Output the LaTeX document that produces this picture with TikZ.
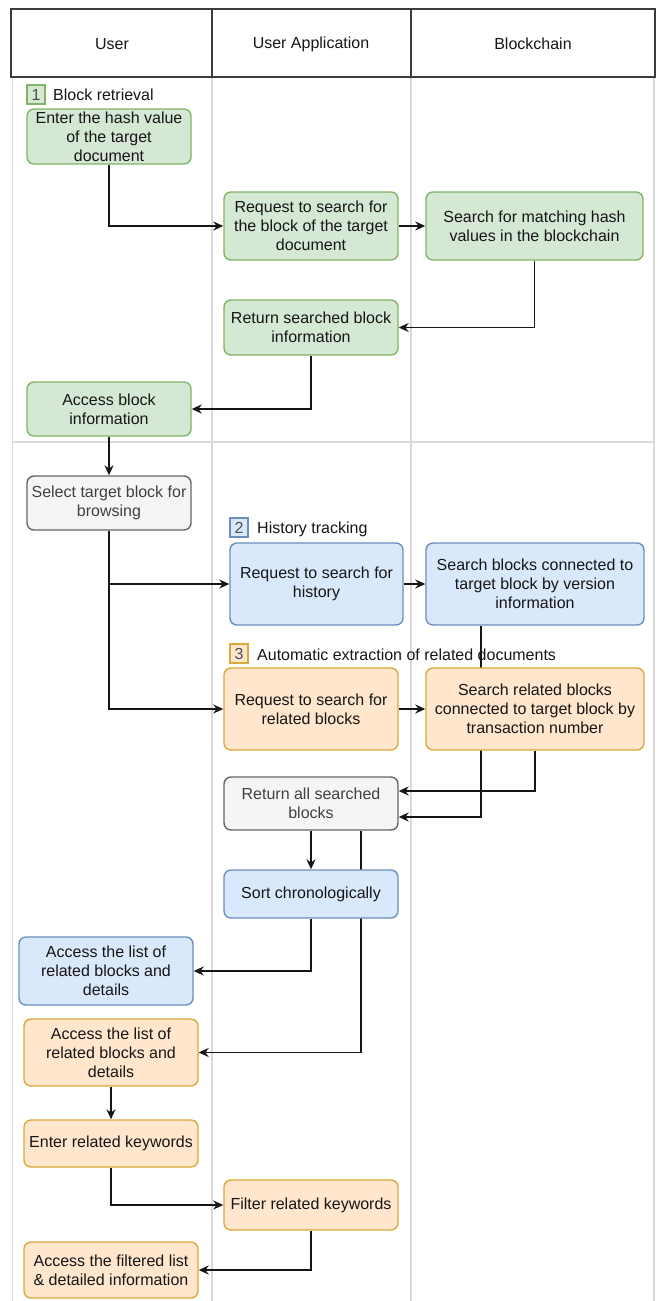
\documentclass[tikz,border=0pt]{standalone}
\usepackage{fontspec}
\setmainfont{Liberation Sans}
\usetikzlibrary{arrows.meta}
\definecolor{greenfill}{HTML}{D5E8D4}
\definecolor{greenline}{HTML}{82B366}
\definecolor{bluefill}{HTML}{DAE8FC}
\definecolor{blueline}{HTML}{6C8EBF}
\definecolor{orangefill}{HTML}{FFE6CC}
\definecolor{orangeline}{HTML}{DBA83C}
\definecolor{grayfill}{HTML}{F5F5F5}
\definecolor{grayline}{HTML}{666666}
\definecolor{lanegray}{HTML}{DADADA}
\definecolor{headline}{HTML}{3C3C3C}
\definecolor{ink}{HTML}{161616}
\pgfdeclarelayer{lanes}
\pgfdeclarelayer{links}
\pgfsetlayers{lanes,links,main}
\newcommand{\boxfont}{\fontsize{16}{19}\selectfont}
\begin{document}
\begin{tikzpicture}[x=1pt,y=-1pt,
  stepbox/.style={rectangle, rounded corners=7pt, draw, line width=1.4pt,
    align=center, inner sep=0pt, font=\boxfont, text=ink},
  greenbox/.style={stepbox, fill=greenfill, draw=greenline},
  bluebox/.style={stepbox, fill=bluefill, draw=blueline},
  orangebox/.style={stepbox, fill=orangefill, draw=orangeline},
  graybox/.style={stepbox, fill=grayfill, draw=grayline, text=black!75},
  badge/.style={rectangle, draw, line width=1.2pt, minimum width=18pt,
    minimum height=19pt, inner sep=0pt, font=\boxfont, text=black!70},
  caption/.style={anchor=west, inner sep=0pt, font=\boxfont, text=ink},
  headtext/.style={font=\boxfont, text=ink},
  link/.style={draw=ink, line width=1.6pt, -{Stealth[length=10pt,width=9pt]}},
  lane/.style={draw=lanegray, line width=1.6pt}]

\useasboundingbox (0,0) rectangle (657,1301);

% swimlanes below the header
\begin{pgfonlayer}{lanes}
  \draw[lane] (12.5,77) -- (12.5,1301);
  \draw[lane] (212,77) -- (212,1301);
  \draw[lane] (411,77) -- (411,1301);
  \draw[lane] (654,77) -- (654,1301);
  \draw[lane] (12.5,442) -- (654,442);
\end{pgfonlayer}

% header row
\draw[draw=headline, line width=2pt] (11,9) rectangle (655,77);
\draw[draw=headline, line width=2pt] (212,9) -- (212,77);
\draw[draw=headline, line width=2pt] (411,9) -- (411,77);
\node[headtext] (hUser) at (112,44) {User};
\node[headtext] (hApp) at (311,44) {User Application};
\node[headtext] (hChain) at (533,44) {Blockchain};

% 1 - block retrieval
\node[badge, fill=greenfill, draw=greenline] (b1) at (36,94.5) {1};
\node[caption] (c1) at (53,95) {Block retrieval};
\node[greenbox, minimum width=164pt, minimum height=55pt] (n1) at (109,136.5)
  {Enter the hash value\\of the target\\document};
\node[greenbox, minimum width=174pt, minimum height=68pt] (n2) at (311,226)
  {Request to search for\\the block of the target\\document};
\node[greenbox, minimum width=217pt, minimum height=68pt] (n3) at (534.5,226)
  {Search for matching hash\\values in the blockchain};
\node[greenbox, minimum width=174pt, minimum height=55pt] (n4) at (311,327.5)
  {Return searched block\\information};
\node[greenbox, minimum width=164pt, minimum height=54pt] (n5) at (109,409)
  {Access block\\information};

% browsing
\node[graybox, minimum width=164pt, minimum height=54pt] (n6) at (109,503)
  {Select target block for\\browsing};

% 2 - history tracking
\node[badge, fill=bluefill, draw=blueline] (b2) at (239,527.5) {2};
\node[caption] (c2) at (257,529) {History tracking};
\node[bluebox, minimum width=173pt, minimum height=82pt] (n7) at (316.5,584)
  {Request to search for\\history};
\node[bluebox, minimum width=218pt, minimum height=82pt] (n8) at (535,584)
  {Search blocks connected to\\target block by version\\information};

% 3 - related documents
\node[badge, fill=orangefill, draw=orangeline] (b3) at (239,653.5) {3};
\node[caption] (c3) at (257,655) {Automatic extraction of related documents};
\node[orangebox, minimum width=174pt, minimum height=82pt] (n9) at (311,709)
  {Request to search for\\related blocks};
\node[orangebox, minimum width=218pt, minimum height=82pt] (n10) at (535,709)
  {Search related blocks\\connected to target block by\\transaction number};

% results
\node[graybox, minimum width=174pt, minimum height=53pt] (n11) at (311,803.5)
  {Return all searched\\blocks};
\node[bluebox, minimum width=174pt, minimum height=48pt] (n12) at (311,894)
  {Sort chronologically};
\node[bluebox, minimum width=174pt, minimum height=68pt] (n13) at (106,971)
  {Access the list of\\related blocks and\\details};
\node[orangebox, minimum width=174pt, minimum height=67pt] (n14) at (111,1052.5)
  {Access the list of\\related blocks and\\details};
\node[orangebox, minimum width=174pt, minimum height=47pt] (n15) at (111,1143.5)
  {Enter related keywords};
\node[orangebox, minimum width=174pt, minimum height=50pt] (n16) at (311,1205)
  {Filter related keywords};
\node[orangebox, minimum width=174pt, minimum height=56pt] (n17) at (111,1270)
  {Access the filtered list\\\& detailed information};

% connectors, kept under the boxes
\begin{pgfonlayer}{links}
  \draw[link] (n1.south) |- (n2.west);
  \draw[link] (n2.east) -- (n3.west);
  \draw[link] (n3.south) |- (n4.east);
  \draw[link] (n4.south) |- (n5.east);
  \draw[link] (n5.south) -- (n6.north);
  \draw[link] (n6.south) |- (n7.west);
  \draw[link] (n6.south) |- (n9.west);
  \draw[link] (n7.east) -- (n8.west);
  \draw[link] (n9.east) -- (n10.west);
  \draw[link] ([xshift=-54pt]n8.south) |- ([yshift=-13.5pt]n11.east);
  \draw[link] (n10.south) |- ([yshift=12.5pt]n11.east);
  \draw[link] (n11.south) -- (n12.north);
  \draw[link] ([xshift=50pt]n11.south) |- (n14.east);
  \draw[link] (n12.south) |- (n13.east);
  \draw[link] (n14.south) -- (n15.north);
  \draw[link] (n15.south) |- (n16.west);
  \draw[link] (n16.south) |- (n17.east);
\end{pgfonlayer}
\end{tikzpicture}
\end{document}
